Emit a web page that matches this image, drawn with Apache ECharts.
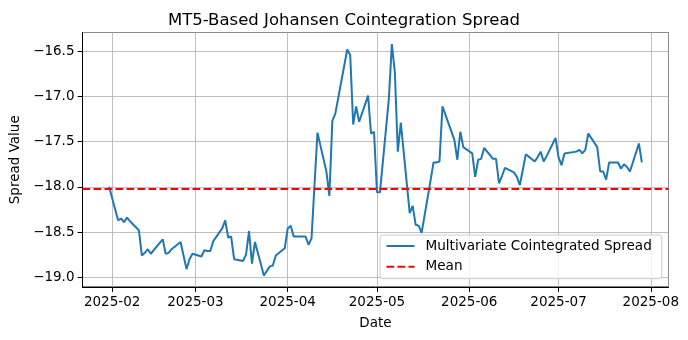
<!DOCTYPE html>
<html><head><meta charset="utf-8">
<script src="https://cdn.jsdelivr.net/npm/echarts@6/dist/echarts.min.js"></script>
<style>html,body{margin:0;padding:0;background:#fff}#c{width:688px;height:340px}</style>
</head><body><div id="c"></div>
<script>
const titleText = 'MT5-Based Johansen Cointegration Spread';
const xAxisName = 'Date';
const yAxisName = 'Spread Value';
const seriesNames = ['Multivariate Cointegrated Spread', 'Mean'];
const dates = [
'2025-01-31','2025-02-03','2025-02-04','2025-02-05','2025-02-06','2025-02-07','2025-02-10','2025-02-11','2025-02-12','2025-02-13','2025-02-14',
'2025-02-17','2025-02-18','2025-02-19','2025-02-20','2025-02-21','2025-02-24','2025-02-25','2025-02-26','2025-02-27','2025-02-28',
'2025-03-03','2025-03-04','2025-03-05','2025-03-06','2025-03-07','2025-03-10','2025-03-11','2025-03-12','2025-03-13','2025-03-14',
'2025-03-17','2025-03-18','2025-03-19','2025-03-20','2025-03-21','2025-03-24','2025-03-25','2025-03-26','2025-03-27','2025-03-28',
'2025-03-31','2025-04-01','2025-04-02','2025-04-03','2025-04-04','2025-04-07','2025-04-08','2025-04-09','2025-04-11',
'2025-04-14','2025-04-15','2025-04-16','2025-04-17','2025-04-21','2025-04-22','2025-04-23','2025-04-24','2025-04-25',
'2025-04-28','2025-04-29','2025-04-30','2025-05-01','2025-05-02','2025-05-05','2025-05-06','2025-05-07','2025-05-08','2025-05-09',
'2025-05-12','2025-05-13','2025-05-14','2025-05-15','2025-05-16','2025-05-19','2025-05-20','2025-05-21','2025-05-22','2025-05-23',
'2025-05-27','2025-05-28','2025-05-29','2025-05-30','2025-06-02','2025-06-03','2025-06-04','2025-06-05','2025-06-06',
'2025-06-09','2025-06-10','2025-06-11','2025-06-12','2025-06-13','2025-06-16','2025-06-17','2025-06-18','2025-06-19','2025-06-20',
'2025-06-23','2025-06-24','2025-06-25','2025-06-26','2025-06-27','2025-06-30','2025-07-01','2025-07-02','2025-07-03',
'2025-07-07','2025-07-08','2025-07-09','2025-07-10','2025-07-11','2025-07-14','2025-07-15','2025-07-16','2025-07-17','2025-07-18',
'2025-07-21','2025-07-22','2025-07-23','2025-07-24','2025-07-25','2025-07-28','2025-07-29'
];
const spreadValues = [
-18.00,-18.37,-18.35,-18.39,-18.34,-18.38,-18.48,-18.76,-18.73,-18.69,-18.74,
-18.62,-18.58,-18.74,-18.73,-18.69,-18.61,-18.76,-18.91,-18.80,-18.74,
-18.77,-18.70,-18.71,-18.71,-18.60,-18.46,-18.37,-18.56,-18.55,-18.80,
-18.82,-18.75,-18.49,-18.85,-18.61,-18.98,-18.93,-18.88,-18.87,-18.76,
-18.68,-18.46,-18.43,-18.55,-18.55,-18.55,-18.64,-18.57,-17.40,
-17.83,-18.10,-17.27,-17.19,-16.48,-16.54,-17.31,-17.11,-17.28,
-16.99,-17.41,-17.39,-18.06,-18.06,-17.02,-16.42,-16.73,-17.61,-17.29,
-18.29,-18.21,-18.42,-18.43,-18.51,-17.93,-17.73,-17.73,-17.72,-17.11,
-17.48,-17.70,-17.39,-17.56,-17.63,-17.89,-17.70,-17.69,-17.57,
-17.69,-17.69,-17.96,-17.88,-17.79,-17.84,-17.89,-17.98,-17.81,-17.64,
-17.72,-17.67,-17.61,-17.72,-17.66,-17.46,-17.67,-17.76,-17.63,
-17.61,-17.59,-17.63,-17.59,-17.41,-17.56,-17.83,-17.83,-17.92,-17.73,
-17.73,-17.80,-17.75,-17.78,-17.83,-17.52,-17.73
];
const meanValue = -18.025;

const FONT = 'DejaVu Sans';
const toTs = d => { const p = d.split('-').map(Number); return Date.UTC(p[0], p[1]-1, p[2]); };
const xs = dates.map(toTs);
const xFirst = xs[0], xLast = xs[xs.length-1];
const xPad = (xLast - xFirst) * 0.05;
const xMin = xFirst - xPad, xMax = xLast + xPad;
const vMin = Math.min(...spreadValues), vMax = Math.max(...spreadValues);
const yPad = (vMax - vMin) * 0.05;
const yMin = vMin - yPad, yMax = vMax + yPad;

const spreadData = xs.map((x, i) => [x, spreadValues[i]]);
const meanData = [[xMin, meanValue], [xMax, meanValue]];

const chart = echarts.init(document.getElementById('c'), null, {renderer: 'canvas'});
chart.setOption({
  useUTC: true,
  animation: false,
  backgroundColor: '#ffffff',
  textStyle: {fontFamily: FONT},
  title: {
    text: titleText, left: 'center', top: 7,
    textStyle: {fontFamily: FONT, fontSize: 16.5, fontWeight: 'normal', color: '#000'}
  },
  grid: {left: 82.5, right: 19.5, top: 32.5, bottom: 53, show: true, borderColor: '#000', borderWidth: 1, containLabel: false},
  legend: {
    orient: 'vertical', left: 380, top: 235,
    itemWidth: 28, itemHeight: 14, itemGap: 6.7,
    padding: [4, 10, 5, 5.5],
    backgroundColor: 'rgba(255,255,255,0.8)', borderColor: '#cccccc', borderWidth: 1, borderRadius: 3,
    itemStyle: {opacity: 0},
    formatter: '{g|\u2009}{name}',
    textStyle: {fontFamily: FONT, fontSize: 13.6, color: '#000', rich: {g: {width: 6, fontSize: 13.6}}},
    data: seriesNames
  },
  xAxis: {
    type: 'time', min: xMin, max: xMax, splitNumber: 7,
    name: xAxisName, nameLocation: 'middle', nameGap: 29,
    nameTextStyle: {fontFamily: FONT, fontSize: 13.5, color: '#000'},
    axisLine: {show: true, lineStyle: {color: '#000', width: 1}},
    axisTick: {show: true, length: 4.9, lineStyle: {color: '#000', width: 1}},
    axisLabel: {
      fontFamily: FONT, fontSize: 13.5, color: '#000', margin: 8,
      formatter: v => new Date(v).toISOString().slice(0, 7)
    },
    splitLine: {show: true, lineStyle: {color: '#b0b0b0', width: 0.8}}
  },
  yAxis: {
    type: 'value', min: yMin, max: yMax, splitNumber: 5, scale: true,
    name: yAxisName, nameLocation: 'middle', nameGap: 56,
    nameTextStyle: {fontFamily: FONT, fontSize: 13.5, color: '#000'},
    axisLine: {show: true, lineStyle: {color: '#000', width: 1}},
    axisTick: {show: true, length: 4.9, lineStyle: {color: '#000', width: 1}},
    axisLabel: {
      fontFamily: FONT, fontSize: 13.5, color: '#000', margin: 8,
      showMinLabel: false, showMaxLabel: false,
      formatter: v => v.toFixed(1).replace('-', '\u2212')
    },
    splitLine: {show: true, lineStyle: {color: '#b0b0b0', width: 0.8}}
  },
  series: [
    {
      name: seriesNames[0], type: 'line', data: spreadData, symbol: 'none', showSymbol: false,
      lineStyle: {color: '#1f77b4', width: 2}, itemStyle: {color: '#1f77b4'}, z: 2
    },
    {
      name: seriesNames[1], type: 'line', data: meanData, symbol: 'none', showSymbol: false,
      lineStyle: {color: '#ff0000', width: 2, type: [7.7, 3.3]}, itemStyle: {color: '#ff0000'}, z: 3
    }
  ]
});
</script>
</body></html>
